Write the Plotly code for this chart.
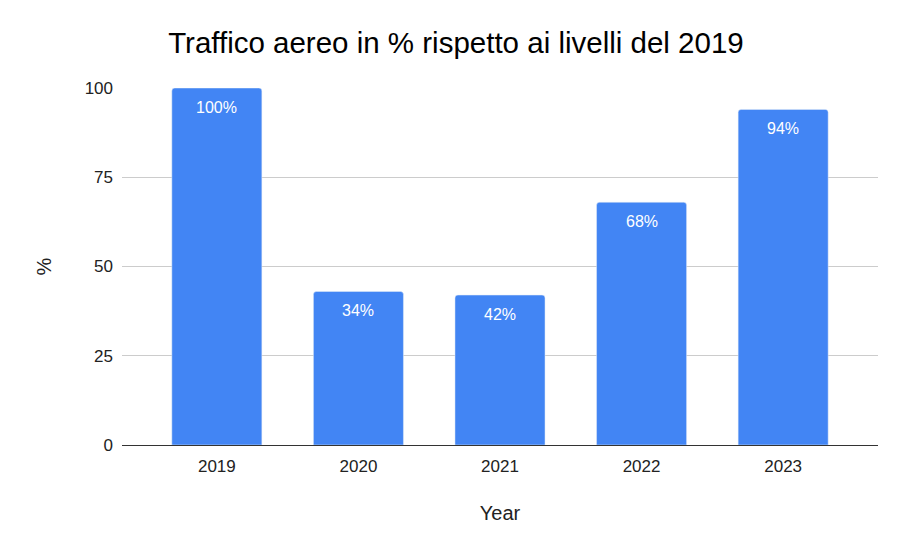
import plotly.graph_objects as go

#%%Data
years = ['2019', '2020', '2021', '2022', '2023']
traffic = [100, 43, 42, 68, 94]  # bar heights
labels = ['100%', '34%', '42%', '68%', '94%']  # labels as printed on the bars
y_ticks = [0, 25, 50, 75, 100]

#%%Figure
fig = go.Figure(data=[go.Bar(x=years, y=traffic,
                             marker=dict(color='#4285F4', cornerradius=3),
                             showlegend=False)])

# annotations use the category index, '2019' as a string would be read as index 2019
for i, (val, lab) in enumerate(zip(traffic, labels)):
    fig.add_annotation(x=i, y=val, text=lab, showarrow=False,
                       yanchor='top', yshift=-9,
                       font=dict(family='Arial', size=16, color='white'))

# page body adds an 8px offset, margins are trimmed to make up for it
fig.update_layout(
    width=916, height=537,
    paper_bgcolor='white', plot_bgcolor='white',
    margin=dict(l=114, r=46, t=80, b=100, autoexpand=False),
    bargap=0.364,
    font=dict(family='Arial', size=17, color='#222222'),
    title=dict(text='Traffico aereo in % rispetto ai livelli del 2019',
               x=0.489, xanchor='center', y=0.935, yanchor='middle',
               font=dict(family='Arial', size=29.5, color='#000000')),
)
fig.update_xaxes(type='category', range=[-0.67, 4.67],
                 title=dict(text='Year', standoff=30),
                 showline=True, linecolor='#333333', linewidth=1,
                 ticks='', tickfont=dict(size=17), ticklabelstandoff=6)
fig.update_yaxes(title=dict(text='%', standoff=27), range=[0, 100],
                 tickvals=y_ticks, showgrid=True, gridcolor='#cccccc',
                 zeroline=False, ticks='', tickfont=dict(size=17),
                 ticklabelstandoff=8)

fig.write_html("out.html")
